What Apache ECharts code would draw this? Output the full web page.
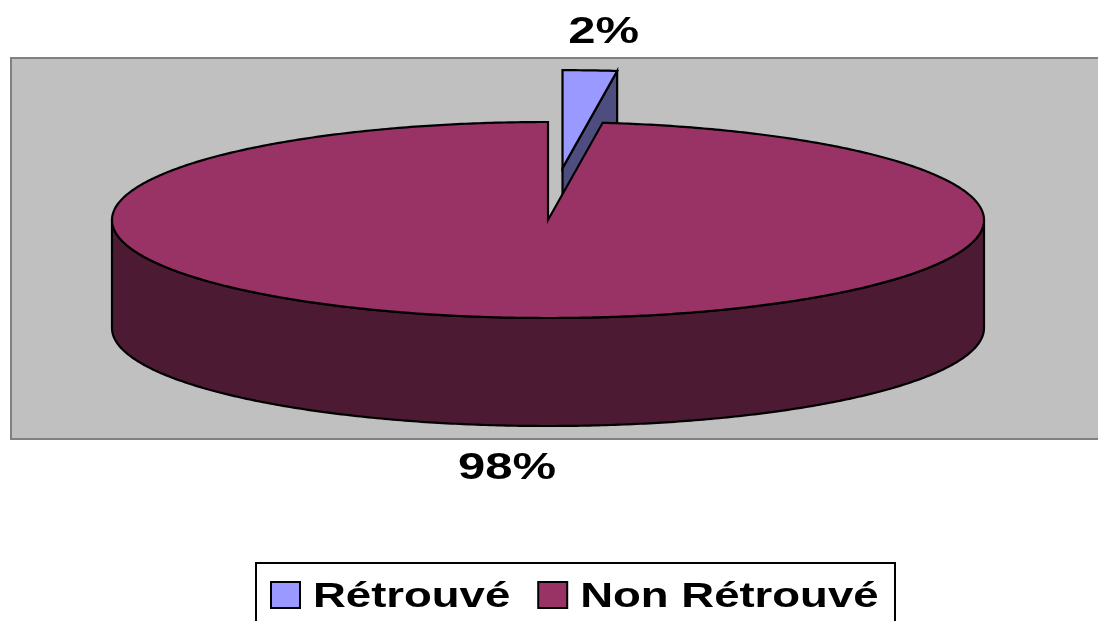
<!DOCTYPE html>
<html>
<head>
<meta charset="utf-8">
<script src="https://cdn.jsdelivr.net/npm/echarts@6/dist/echarts.min.js"></script>
<style>
  html, body { margin: 0; padding: 0; background: #ffffff; }
  #chart { width: 1098px; height: 621px; }
</style>
</head>
<body>
<div id="chart"></div>
<script>
// Share of records found vs not found
const categories = ['Rétrouvé', 'Non Rétrouvé'];
const values = [2, 98];
const topColors = ['#9999FF', '#993366'];
const sideColors = ['#4D4D80', '#4C1A33'];
const explodeRatio = [0.53, 0];

// 3D pie geometry (screen pixels)
const CX = 548, CY = 220, RX = 436, RY = 98, DEPTH = 108;
const FONT = '"Liberation Sans", Arial, sans-serif';
const TEXT_STRETCH = 1.36;

const total = values.reduce((a, b) => a + b, 0);
const cum = [0];
values.forEach((v, i) => cum.push(cum[i] + v));

// angle measured clockwise from the back (top of the ellipse)
function rim(a, ox, oy, dz) {
  return [CX + ox + RX * Math.sin(a), CY + oy - RY * Math.cos(a) + dz];
}
function arc(a0, a1, ox, oy, dz) {
  const n = Math.max(2, Math.ceil(Math.abs(a1 - a0) / 0.01));
  const pts = [];
  for (let k = 0; k <= n; k++) pts.push(rim(a0 + (a1 - a0) * k / n, ox, oy, dz));
  return pts;
}

const stroke = { stroke: '#000000', lineWidth: 2.2, lineJoin: 'miter' };

function renderSlice(params, api) {
  const i = params.dataIndex;
  const a0 = cum[i] / total * Math.PI * 2;
  const a1 = cum[i + 1] / total * Math.PI * 2;
  const mid = (a0 + a1) / 2;
  const ox = explodeRatio[i] * RX * Math.sin(mid);
  const oy = -explodeRatio[i] * RY * Math.cos(mid);
  const c = [CX + ox, CY + oy];
  const children = [];

  // radial cut faces that turn towards the viewer
  [[a0, -1], [a1, 1]].forEach(([a, side]) => {
    if (side * Math.sin(a) > 1e-6) {
      const p = rim(a, ox, oy, 0), q = rim(a, ox, oy, DEPTH);
      children.push({
        type: 'polygon',
        shape: { points: [c, p, q, [c[0], c[1] + DEPTH]] },
        style: Object.assign({ fill: sideColors[i] }, stroke)
      });
    }
  });

  // outer wall on the front half of the ellipse
  const f0 = Math.max(a0, Math.PI / 2), f1 = Math.min(a1, Math.PI * 1.5);
  if (f1 > f0) {
    const pts = arc(f0, f1, ox, oy, 0).concat(arc(f1, f0, ox, oy, DEPTH));
    children.push({
      type: 'polygon',
      shape: { points: pts },
      style: Object.assign({ fill: sideColors[i] }, stroke)
    });
  }

  // top face
  children.push({
    type: 'polygon',
    shape: { points: [c].concat(arc(a0, a1, ox, oy, 0)) },
    style: Object.assign({ fill: topColors[i] }, stroke)
  });

  // percentage label outside the slice
  const pct = Math.round(api.value(0) / total * 100) + '%';
  const back = Math.cos(mid) > 0;
  const lx = CX + ox + RX * Math.sin(mid) * 1.5;
  const ly = back
    ? CY + oy - RY * Math.cos(mid) - 37
    : CY + oy - RY * Math.cos(mid) + DEPTH + 43;
  children.push({
    type: 'text',
    x: lx, y: ly,
    scaleX: TEXT_STRETCH,
    style: {
      text: pct, fill: '#000000',
      font: 'bold 36px ' + FONT,
      align: 'center', verticalAlign: 'middle'
    }
  });

  return { type: 'group', children: children };
}

// legend built from the category list
const measureCtx = document.createElement('canvas').getContext('2d');
const LEGEND_FONT = 'bold 35px ' + FONT;
const LEGEND_STRETCH = 1.3;
measureCtx.font = LEGEND_FONT;
const legendItems = [];
let lx = 271;
categories.forEach((name, i) => {
  legendItems.push({
    type: 'rect',
    shape: { x: lx, y: 582, width: 29, height: 26 },
    style: { fill: topColors[i], stroke: '#000000', lineWidth: 2 }
  });
  const tx = lx + 29 + 13;
  const w = measureCtx.measureText(name).width * LEGEND_STRETCH;
  legendItems.push({
    type: 'text',
    x: tx, y: 597,
    scaleX: LEGEND_STRETCH,
    style: {
      text: name, fill: '#000000', font: LEGEND_FONT,
      align: 'left', verticalAlign: 'middle'
    }
  });
  lx = tx + w + 28;
});

const chart = echarts.init(document.getElementById('chart'), null, { renderer: 'canvas' });
chart.setOption({
  backgroundColor: '#ffffff',
  animation: false,
  graphic: [
    {
      type: 'rect', z: 0,
      shape: { x: 11, y: 58, width: 1110, height: 381 },
      style: { fill: '#C0C0C0', stroke: '#808080', lineWidth: 2 }
    },
    {
      type: 'rect', z: 0,
      shape: { x: 256, y: 563, width: 639, height: 80 },
      style: { fill: '#ffffff', stroke: '#000000', lineWidth: 2 }
    },
    { type: 'group', z: 1, children: legendItems }
  ],
  series: [{
    type: 'custom',
    coordinateSystem: 'none',
    renderItem: renderSlice,
    data: values.map((v, i) => ({ name: categories[i], value: [v] }))
  }]
});
</script>
</body>
</html>
